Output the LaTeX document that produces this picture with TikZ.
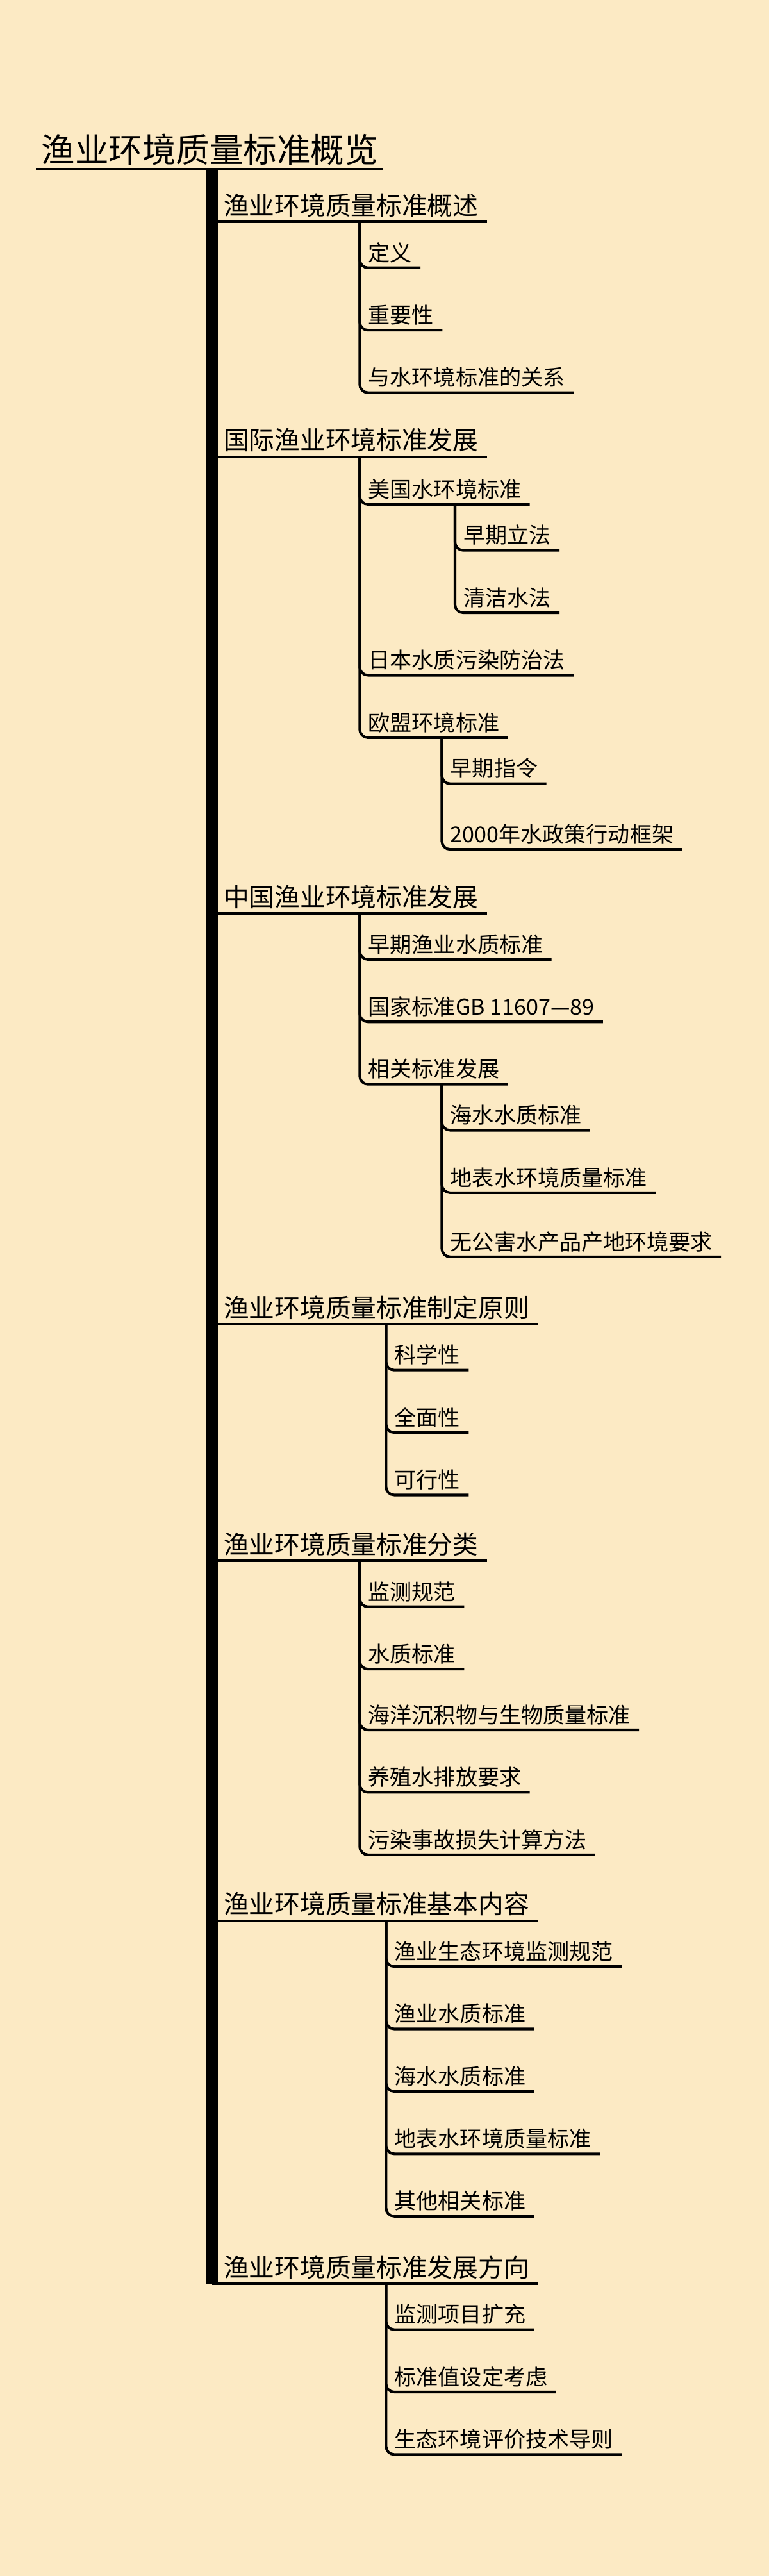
\documentclass[tikz,border=0pt]{standalone}
\usepackage{fontspec}
\setmainfont{Noto Sans CJK SC}
\usetikzlibrary{calc}
\definecolor{bg}{HTML}{FCEAC4}
\tikzset{
  rootn/.style={anchor=south west,inner xsep=3pt,inner ysep=4pt,text depth=0pt,font=\fontsize{20.5}{24}\selectfont},
  l1n/.style={anchor=south west,inner xsep=5pt,inner ysep=4pt,text depth=0pt,font=\fontsize{15.5}{18}\selectfont},
  kidn/.style={anchor=south west,inner xsep=5pt,inner ysep=4pt,text depth=0pt,font=\fontsize{13.3}{16}\selectfont},
  conn/.style={line width=1.6pt,rounded corners=5pt},
  l1line/.style={line width=1.4pt}
}
\newcommand\kid[5]{%
  \node[kidn] (#1) at (#3,#4) {#5};
  \draw[conn] (#3,0 |- #2.south west) |- (#1.south east);}
\newcommand\lone[3]{%
  \node[l1n] (#1) at (131,#2) {#3};
  \draw[l1line] (129,#2) -- (#1.south east);}
\begin{document}
\begin{tikzpicture}[x=1pt,y=-1pt]
\fill[bg] (0,0) rectangle (468,1568);
\useasboundingbox (0,0) rectangle (468,1568);
\node[rootn] (root) at (22,103) {渔业环境质量标准概览};
\draw[line width=1.4pt] (root.south west) -- (root.south east);
\draw[line width=7pt,rounded corners=4pt] (129,103) -- (129,1390);
\lone{a}{135}{渔业环境质量标准概述}
\lone{b}{278}{国际渔业环境标准发展}
\lone{c}{556}{中国渔业环境标准发展}
\lone{d}{806}{渔业环境质量标准制定原则}
\lone{e}{950}{渔业环境质量标准分类}
\lone{f}{1169}{渔业环境质量标准基本内容}
\lone{g}{1390}{渔业环境质量标准发展方向}
% group a
\kid{a1}{a}{219}{163}{定义}
\kid{a2}{a}{219}{201}{重要性}
\kid{a3}{a}{219}{239}{与水环境标准的关系}
% group b
\kid{b1}{b}{219}{307}{美国水环境标准}
\kid{b11}{b1}{277}{335}{早期立法}
\kid{b12}{b1}{277}{373}{清洁水法}
\kid{b2}{b}{219}{411}{日本水质污染防治法}
\kid{b3}{b}{219}{449}{欧盟环境标准}
\kid{b31}{b3}{269}{477}{早期指令}
\kid{b32}{b3}{269}{517}{2000年水政策行动框架}
% group c
\kid{c1}{c}{219}{584}{早期渔业水质标准}
\kid{c2}{c}{219}{622}{国家标准GB 11607—89}
\kid{c3}{c}{219}{660}{相关标准发展}
\kid{c31}{c3}{269}{688}{海水水质标准}
\kid{c32}{c3}{269}{726}{地表水环境质量标准}
\kid{c33}{c3}{269}{765}{无公害水产品产地环境要求}
% group d
\kid{d1}{d}{235}{834}{科学性}
\kid{d2}{d}{235}{872}{全面性}
\kid{d3}{d}{235}{910}{可行性}
% group e
\kid{e1}{e}{219}{978}{监测规范}
\kid{e2}{e}{219}{1016}{水质标准}
\kid{e3}{e}{219}{1053}{海洋沉积物与生物质量标准}
\kid{e4}{e}{219}{1091}{养殖水排放要求}
\kid{e5}{e}{219}{1129}{污染事故损失计算方法}
% group f
\kid{f1}{f}{235}{1197}{渔业生态环境监测规范}
\kid{f2}{f}{235}{1235}{渔业水质标准}
\kid{f3}{f}{235}{1273}{海水水质标准}
\kid{f4}{f}{235}{1311}{地表水环境质量标准}
\kid{f5}{f}{235}{1349}{其他相关标准}
% group g
\kid{g1}{g}{235}{1418}{监测项目扩充}
\kid{g2}{g}{235}{1456}{标准值设定考虑}
\kid{g3}{g}{235}{1494}{生态环境评价技术导则}
\end{tikzpicture}
\end{document}
